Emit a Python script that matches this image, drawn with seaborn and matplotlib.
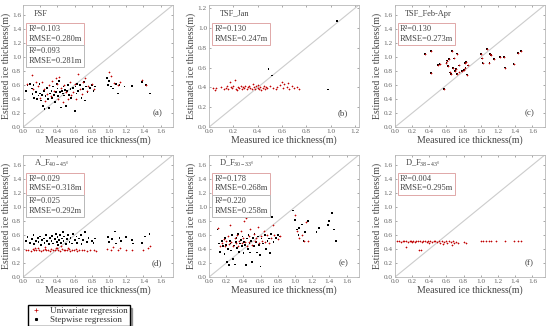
import matplotlib
matplotlib.use("Agg")
import matplotlib.pyplot as plt
import seaborn as sns
from matplotlib.lines import Line2D

# ---- data -------------------------------------------------------------
# (a) FSF
fsf_step_x = [0.03, 0.05, 0.08, 0.10, 0.11, 0.12, 0.13, 0.15, 0.16, 0.18, 0.19, 0.20, 0.21, 0.22, 0.23, 0.24,
              0.25, 0.26, 0.28, 0.29, 0.30, 0.31, 0.33, 0.34, 0.35, 0.36, 0.37, 0.38, 0.39, 0.40, 0.41, 0.42,
              0.43, 0.44, 0.45, 0.46, 0.47, 0.48, 0.49, 0.50, 0.51, 0.52, 0.53, 0.55, 0.56, 0.58, 0.60, 0.61,
              0.62, 0.63, 0.64, 0.66, 0.68, 0.70, 0.71, 0.72, 0.73, 0.75, 0.78, 0.80, 0.82, 0.84, 0.98, 0.99,
              1.00, 1.02, 1.05, 1.08, 1.10, 1.12, 1.18, 1.27, 1.38, 1.43, 1.48]
fsf_step_y = [0.52, 0.60, 0.62, 0.55, 0.47, 0.60, 0.42, 0.50, 0.40, 0.45, 0.62, 0.48, 0.38, 0.46, 0.30, 0.52,
              0.26, 0.44, 0.56, 0.40, 0.27, 0.48, 0.52, 0.42, 0.58, 0.46, 0.36, 0.50, 0.62, 0.55, 0.44, 0.66,
              0.50, 0.28, 0.52, 0.48, 0.58, 0.45, 0.53, 0.30, 0.52, 0.60, 0.46, 0.54, 0.42, 0.56, 0.23, 0.58,
              0.48, 0.62, 0.52, 0.60, 0.42, 0.54, 0.64, 0.38, 0.58, 0.50, 0.56, 0.60, 0.52, 0.58, 0.70, 0.60,
              0.66, 0.58, 0.55, 0.62, 0.48, 0.60, 0.58, 0.59, 0.64, 0.60, 0.48]
fsf_uni_x = [0.05, 0.10, 0.12, 0.15, 0.17, 0.20, 0.22, 0.24, 0.26, 0.28, 0.30, 0.32, 0.34, 0.36, 0.38, 0.40,
             0.41, 0.42, 0.44, 0.46, 0.48, 0.50, 0.52, 0.54, 0.56, 0.58, 0.60, 0.62, 0.64, 0.66, 0.68, 0.70,
             0.72, 0.74, 0.76, 0.80, 0.83, 1.00, 1.02, 1.06, 1.10, 1.13, 1.38, 1.43]
fsf_uni_y = [0.62, 0.74, 0.55, 0.65, 0.58, 0.42, 0.64, 0.55, 0.38, 0.48, 0.60, 0.45, 0.66, 0.52, 0.70, 0.62,
             0.40, 0.72, 0.56, 0.36, 0.60, 0.50, 0.40, 0.64, 0.46, 0.50, 0.62, 0.40, 0.76, 0.55, 0.48, 0.64,
             0.70, 0.52, 0.58, 0.62, 0.55, 0.78, 0.73, 0.63, 0.60, 0.64, 0.67, 0.60]

# (b) TSF_Jan
jan_x = [0.03, 0.05, 0.06, 0.10, 0.12, 0.14, 0.15, 0.16, 0.17, 0.18, 0.19, 0.20, 0.21, 0.22, 0.23, 0.24,
         0.25, 0.26, 0.27, 0.28, 0.29, 0.30, 0.31, 0.32, 0.33, 0.34, 0.35, 0.36, 0.37, 0.38, 0.39, 0.40,
         0.40, 0.41, 0.42, 0.43, 0.44, 0.45, 0.46, 0.47, 0.48, 0.50, 0.53, 0.55, 0.56, 0.58,
         0.60, 0.61, 0.62, 0.64, 0.65, 0.66, 0.68, 0.70, 0.72, 0.74]
jan_y = [0.39, 0.37, 0.39, 0.40, 0.38, 0.39, 0.42, 0.38, 0.46, 0.40, 0.39, 0.41, 0.48, 0.38, 0.37, 0.40,
         0.39, 0.41, 0.38, 0.40, 0.39, 0.41, 0.38, 0.40, 0.42, 0.39, 0.38, 0.44, 0.40, 0.38, 0.41, 0.39,
         0.43, 0.38, 0.40, 0.37, 0.39, 0.41, 0.38, 0.40, 0.39, 0.42, 0.39, 0.38, 0.40, 0.43,
         0.46, 0.39, 0.44, 0.40, 0.45, 0.38, 0.42, 0.39, 0.40, 0.38]
jan_dark_x = [0.49, 0.52, 0.98, 1.05]
jan_dark_y = [0.59, 0.52, 0.38, 1.07]

# (c) TSF_Feb-Apr (both models coincide)
feb_x = [0.35, 0.42, 0.42, 0.50, 0.52, 0.57, 0.60, 0.61, 0.62, 0.63, 0.64, 0.65, 0.66, 0.68, 0.69, 0.70,
         0.71, 0.72, 0.72, 0.74, 0.75, 0.78, 0.80, 0.81, 0.82, 0.83, 0.84, 0.85, 1.00, 1.01, 1.02, 1.07,
         1.10, 1.11, 1.12, 1.15, 1.22, 1.27, 1.28, 1.38, 1.43, 1.47]
feb_y = [1.04, 1.09, 0.77, 0.89, 0.90, 0.54, 0.92, 0.95, 0.87, 0.97, 0.78, 0.76, 1.09, 0.84, 0.98, 0.80,
         0.83, 0.76, 1.05, 0.88, 0.78, 0.80, 0.82, 0.91, 0.84, 0.93, 0.75, 0.88, 1.04, 0.98, 0.91, 1.12,
         0.91, 1.04, 1.03, 0.97, 1.00, 1.00, 0.85, 0.90, 1.06, 1.09]

# (d) A_F 40-45
af_uni_x = [0.03, 0.06, 0.09, 0.11, 0.13, 0.15, 0.17, 0.19, 0.21, 0.23, 0.25, 0.27, 0.29, 0.31, 0.33, 0.35,
            0.37, 0.39, 0.41, 0.43, 0.45, 0.47, 0.49, 0.51, 0.53, 0.55, 0.57, 0.59, 0.61, 0.63, 0.65, 0.68,
            0.71, 0.74, 0.78, 0.82, 0.85, 0.14, 0.26, 0.38, 0.44, 0.52, 0.98, 1.02, 1.05, 1.10, 1.13, 1.20,
            1.27, 1.40, 1.45, 1.48]
af_uni_y = [0.39, 0.38, 0.37, 0.40, 0.38, 0.39, 0.41, 0.38, 0.37, 0.39, 0.40, 0.38, 0.39, 0.37, 0.40, 0.38,
            0.39, 0.41, 0.38, 0.37, 0.40, 0.38, 0.39, 0.38, 0.40, 0.37, 0.39, 0.38, 0.40, 0.37, 0.38, 0.39,
            0.38, 0.37, 0.38, 0.38, 0.37, 0.42, 0.43, 0.42, 0.44, 0.42, 0.40, 0.38, 0.43, 0.38, 0.42, 0.39,
            0.38, 0.38, 0.41, 0.45]
af_step_x = [0.03, 0.05, 0.08, 0.10, 0.12, 0.13, 0.15, 0.17, 0.18, 0.20, 0.21, 0.22, 0.24, 0.25, 0.27, 0.28,
             0.30, 0.31, 0.33, 0.34, 0.35, 0.37, 0.38, 0.39, 0.40, 0.41, 0.42, 0.43, 0.44, 0.45, 0.46, 0.47,
             0.48, 0.50, 0.51, 0.52, 0.54, 0.55, 0.57, 0.58, 0.60, 0.62, 0.63, 0.65, 0.67, 0.68, 0.70, 0.72,
             0.74, 0.76, 0.80, 0.82, 0.84, 0.99, 1.00, 1.03, 1.07, 1.08, 1.12, 1.14, 1.20, 1.27, 1.28, 1.38,
             1.42, 1.47]
af_step_y = [0.51, 0.57, 0.49, 0.54, 0.60, 0.47, 0.52, 0.56, 0.50, 0.58, 0.46, 0.53, 0.55, 0.49, 0.60, 0.52,
             0.47, 0.56, 0.51, 0.59, 0.48, 0.54, 0.62, 0.50, 0.57, 0.46, 0.53, 0.60, 0.49, 0.55, 0.64, 0.51,
             0.58, 0.47, 0.54, 0.60, 0.50, 0.56, 0.48, 0.62, 0.53, 0.58, 0.49, 0.55, 0.60, 0.47, 0.53, 0.64,
             0.50, 0.56, 0.52, 0.49, 0.55, 0.57, 0.50, 0.54, 0.65, 0.48, 0.56, 0.51, 0.57, 0.53, 0.48, 0.49,
             0.58, 0.61]

# (e) D_F 30-33
df1_step_x = [0.10, 0.12, 0.13, 0.15, 0.16, 0.18, 0.19, 0.20, 0.21, 0.22, 0.23, 0.24, 0.25, 0.26, 0.27, 0.28,
              0.29, 0.30, 0.31, 0.32, 0.33, 0.34, 0.35, 0.36, 0.37, 0.38, 0.39, 0.40, 0.41, 0.42, 0.43, 0.44,
              0.45, 0.46, 0.47, 0.48, 0.49, 0.50, 0.51, 0.52, 0.53, 0.55, 0.56, 0.57, 0.58, 0.59, 0.60, 0.61,
              0.62, 0.63, 0.65, 0.66, 0.68, 0.70, 0.71, 0.72, 0.73, 0.75, 0.78, 0.80, 0.83, 0.98, 1.00, 1.02,
              1.04, 1.05, 1.08, 1.10, 1.12, 1.15, 1.25, 1.28, 1.38, 1.40, 1.43, 1.45, 1.48]
df1_step_y = [0.68, 0.48, 0.36, 0.52, 0.44, 0.33, 0.56, 0.46, 0.22, 0.40, 0.17, 0.52, 0.48, 0.38, 0.60, 0.26,
              0.45, 0.18, 0.50, 0.56, 0.42, 0.62, 0.36, 0.48, 0.53, 0.44, 0.58, 0.34, 0.50, 0.46, 0.17, 0.55,
              0.40, 0.60, 0.48, 0.35, 0.52, 0.22, 0.56, 0.44, 0.62, 0.50, 0.35, 0.58, 0.46, 0.32, 0.15, 0.55,
              0.85, 0.48, 0.60, 0.40, 0.52, 0.55, 0.34, 0.62, 0.86, 0.50, 0.56, 0.60, 0.58, 0.95, 0.82, 0.68,
              0.60, 0.70, 0.75, 0.52, 0.64, 0.80, 0.64, 0.70, 0.74, 0.80, 0.91, 0.68, 0.51]
df1_uni_x = [0.11, 0.13, 0.15, 0.17, 0.19, 0.20, 0.22, 0.23, 0.25, 0.26, 0.28, 0.30, 0.31, 0.33, 0.34, 0.35,
             0.37, 0.38, 0.40, 0.41, 0.42, 0.43, 0.44, 0.46, 0.47, 0.48, 0.50, 0.52, 0.53, 0.55, 0.57, 0.58,
             0.60, 0.62, 0.64, 0.65, 0.67, 0.70, 0.72, 0.74, 0.76, 0.80, 0.82, 1.00, 1.02, 1.05, 1.08, 1.10,
             1.13, 1.15]
df1_uni_y = [0.70, 0.45, 0.48, 0.55, 0.44, 0.52, 0.58, 0.47, 0.74, 0.50, 0.45, 0.56, 0.48, 0.60, 0.44, 0.52,
             0.66, 0.48, 0.56, 0.80, 0.50, 0.84, 0.44, 0.58, 0.50, 0.68, 0.46, 0.62, 0.52, 0.56, 0.72, 0.48,
             0.58, 0.52, 0.66, 0.50, 0.60, 0.48, 0.56, 0.74, 0.60, 0.54, 0.58, 0.88, 0.66, 0.56, 0.60, 0.52,
             0.78, 0.52]

# (f) D_F 38-43
df2_x = [0.03, 0.05, 0.07, 0.09, 0.11, 0.13, 0.15, 0.17, 0.19, 0.21, 0.23, 0.25, 0.27, 0.29, 0.31, 0.33,
         0.35, 0.37, 0.39, 0.41, 0.43, 0.45, 0.47, 0.49, 0.51, 0.53, 0.55, 0.57, 0.59, 0.61, 0.63, 0.65,
         0.67, 0.69, 0.71, 0.73, 0.80, 0.83, 1.00, 1.03, 1.06, 1.10, 1.12, 1.18, 1.28, 1.38, 1.43, 1.47,
         0.13, 0.28, 0.30, 0.20, 0.40, 0.56, 0.66]
df2_y = [0.51, 0.52, 0.50, 0.51, 0.52, 0.51, 0.50, 0.52, 0.51, 0.52, 0.50, 0.51, 0.52, 0.51, 0.50, 0.52,
         0.51, 0.50, 0.52, 0.51, 0.50, 0.51, 0.52, 0.50, 0.51, 0.49, 0.52, 0.50, 0.51, 0.48, 0.52, 0.50,
         0.51, 0.48, 0.50, 0.49, 0.50, 0.48, 0.52, 0.51, 0.52, 0.51, 0.52, 0.52, 0.52, 0.52, 0.52, 0.52,
         0.43, 0.39, 0.39, 0.50, 0.49, 0.47, 0.46]

titles = ["FSF", "TSF_Jan", "TSF_Feb-Apr", "A_F$_{40-45°}$", "D_F$_{30-33°}$", "D_F$_{38-43°}$"]
uni_stats = ["R²=0.103\nRMSE=0.280m", "R²=0.130\nRMSE=0.247m", "R²=0.130\nRMSE=0.273m",
             "R²=0.029\nRMSE=0.318m", "R²=0.178\nRMSE=0.268m", "R²=0.004\nRMSE=0.295m"]
step_stats = ["R²=0.093\nRMSE=0.281m", None, None,
              "R²=0.025\nRMSE=0.292m", "R²=0.220\nRMSE=0.258m", None]
panel_tags = ["(a)", "(b)", "(c)", "(d)", "(e)", "(f)"]
limits = [1.74, 1.23, 1.74, 1.74, 1.74, 1.74]

# (univariate, stepwise) per panel; None = no separate dark marks
series = [
    ((fsf_uni_x, fsf_uni_y), (fsf_step_x, fsf_step_y)),
    ((jan_x, jan_y), (jan_dark_x, jan_dark_y)),
    ((feb_x, feb_y), (feb_x, feb_y)),
    ((af_uni_x, af_uni_y), (af_step_x, af_step_y)),
    ((df1_uni_x, df1_uni_y), (df1_step_x, df1_step_y)),
    ((df2_x, df2_y), None),
]

# ---- style -------------------------------------------------------------
sns.set_style("ticks")
plt.rcParams['font.family'] = ['Liberation Serif', 'DejaVu Serif']
plt.rcParams['mathtext.fontset'] = 'custom'
plt.rcParams['mathtext.rm'] = 'Liberation Serif'
plt.rcParams['mathtext.it'] = 'Liberation Serif'

RED = "#c00000"
TXT = "#444444"

fig = plt.figure(figsize=(5.5, 3.26), dpi=100)
lefts = [0.042, 0.380, 0.718]
bottoms = [0.610, 0.150]
w, h = 0.272, 0.374

for i in range(6):
    r, c = divmod(i, 3)
    ax = fig.add_axes([lefts[c], bottoms[r], w, h])
    lim = limits[i]
    uni, step_pts = series[i]

    ax.plot([0, lim], [0, lim], color="#cccccc", lw=0.8, zorder=1)
    if step_pts is not None:
        sns.scatterplot(x=step_pts[0], y=step_pts[1], ax=ax, marker="s", s=1.6,
                        color="black", edgecolor="none", linewidth=0, zorder=2)
    sns.scatterplot(x=uni[0], y=uni[1], ax=ax, marker="+", s=3, color=RED,
                    linewidth=0.45, zorder=3)

    ax.set_xlim(0, lim)
    ax.set_ylim(0, lim)
    ticks = [round(k * 0.2, 1) for k in range(int(lim / 0.2 + 1e-9) + 1)]
    ax.set_xticks(ticks)
    ax.set_yticks(ticks)
    ax.set_xticklabels([f"{t:.1f}" for t in ticks])
    ax.set_yticklabels([f"{t:.1f}" for t in ticks])
    ax.tick_params(direction="in", length=1.5, width=0.4, labelsize=5.2,
                   colors="#666666", top=True, right=True, pad=1.5)
    for sp in ax.spines.values():
        sp.set_color("#b8b8b8")
        sp.set_linewidth(0.6)
    ax.set_xlabel("Measured ice thickness(m)", fontsize=7, color=TXT, labelpad=1)
    ax.set_ylabel("Estimated ice thickness(m)", fontsize=7, color=TXT, labelpad=1)

    ax.text(0.07, 0.93, titles[i], transform=ax.transAxes, fontsize=6,
            color=TXT, va="center", ha="left")
    ax.text(0.035, 0.84, uni_stats[i], transform=ax.transAxes, fontsize=6,
            color=TXT, va="top", ha="left", linespacing=1.3,
            bbox=dict(boxstyle="square,pad=0.25", fc="white", ec="#e0a8a8", lw=0.7))
    if step_stats[i]:
        ax.text(0.035, 0.655, step_stats[i], transform=ax.transAxes, fontsize=6,
                color=TXT, va="top", ha="left", linespacing=1.3,
                bbox=dict(boxstyle="square,pad=0.25", fc="white", ec="#b8b8b8", lw=0.7))
    ax.text(0.93, 0.08, panel_tags[i], transform=ax.transAxes, fontsize=6.5,
            color=TXT, ha="right", va="bottom")

handles = [Line2D([], [], ls="none", marker="+", color=RED, markersize=2.5, mew=0.5),
           Line2D([], [], ls="none", marker="s", color="black", markersize=1.2)]
fig.legend(handles, ["Univariate regression", "Stepwise regression"],
           loc="upper left", bbox_to_anchor=(0.042, 0.078), fontsize=6.5,
           frameon=True, fancybox=False, shadow=True, edgecolor="black",
           borderpad=0.2, labelspacing=0.1, handletextpad=0.8, handlelength=1.5)
plt.setp(fig.legends[0].get_texts(), color="#333333")

fig.savefig("out.png", dpi=100)
